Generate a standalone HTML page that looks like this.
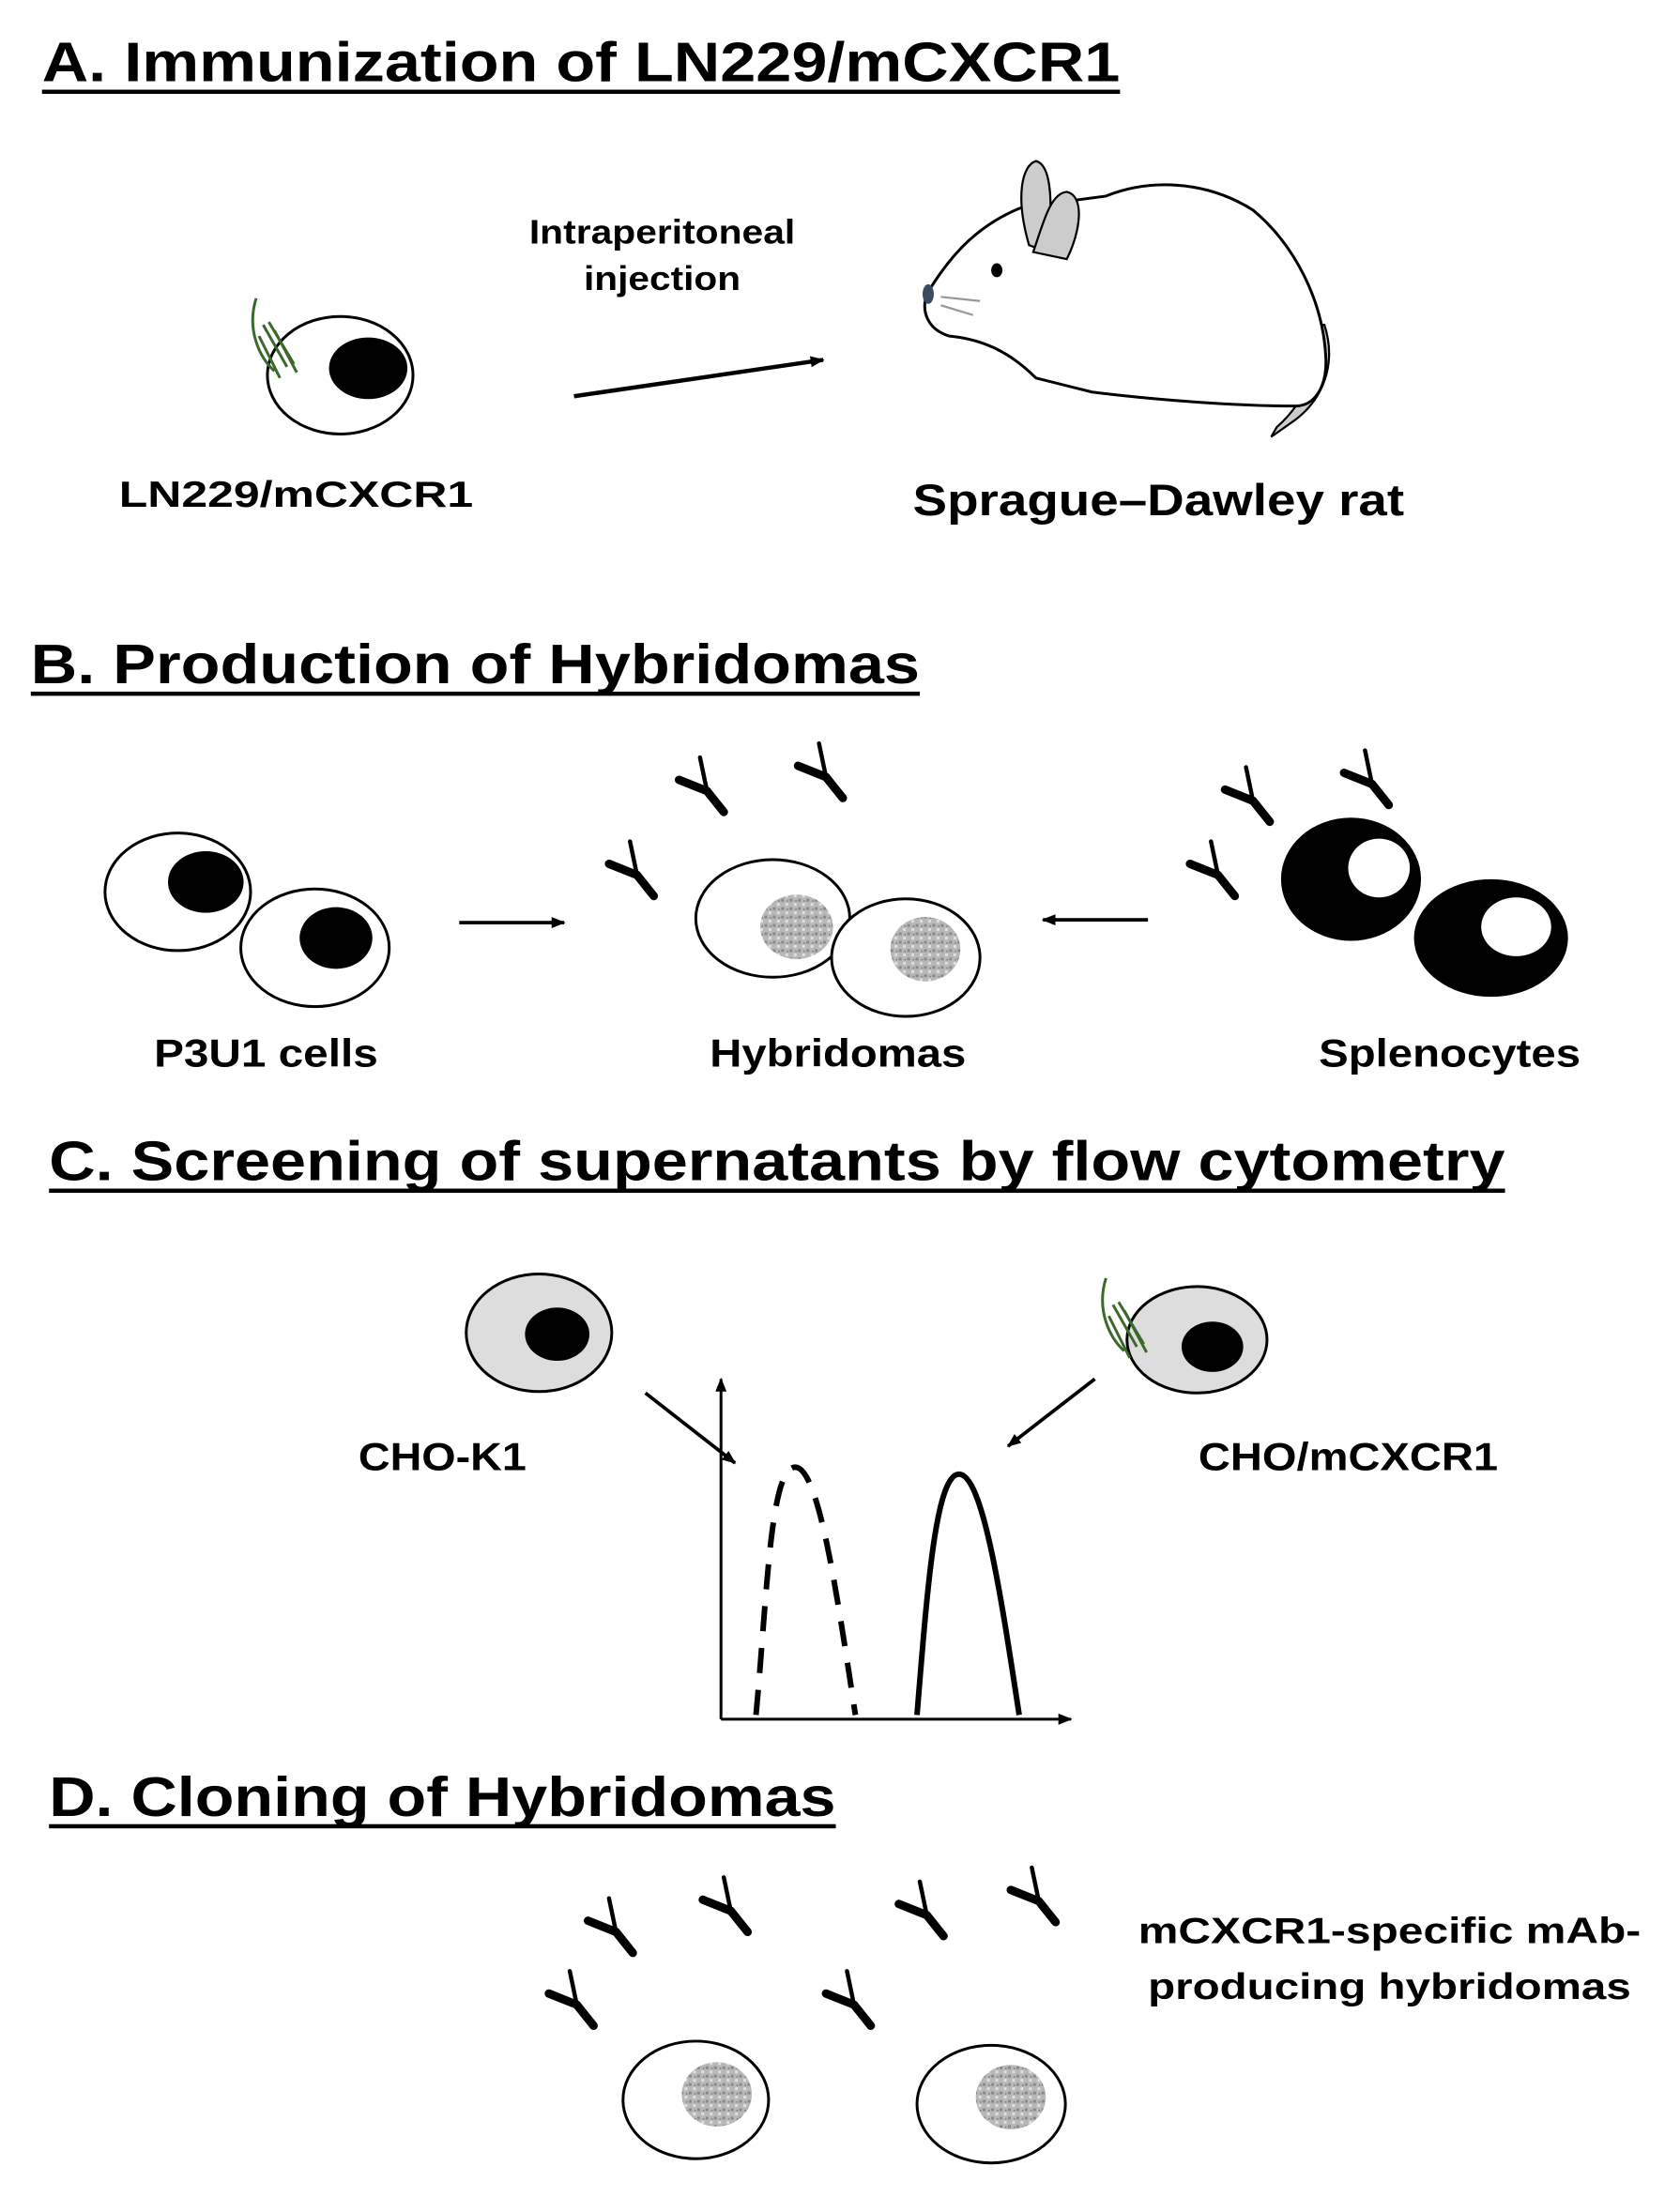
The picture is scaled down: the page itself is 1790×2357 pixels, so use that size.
<!DOCTYPE html>
<html><head><meta charset="utf-8"><style>html,body{margin:0;padding:0;background:#fff}svg{display:block}</style></head>
<body>
<svg width="1790" height="2357" viewBox="0 0 1200 1580" xmlns="http://www.w3.org/2000/svg" font-family="Liberation Sans, Arial, sans-serif" font-weight="bold">
<defs>
<marker id="ah" markerWidth="10" markerHeight="8" refX="9" refY="4" orient="auto" markerUnits="userSpaceOnUse"><path d="M0,0 L10,4 L0,8 Z" fill="#000"/></marker>
<pattern id="grain" width="6" height="6" patternUnits="userSpaceOnUse"><rect width="6" height="6" fill="#b8b8b8"/><rect x="0" y="0" width="2" height="2" fill="#888"/><rect x="3" y="3" width="2" height="2" fill="#e0e0e0"/><rect x="4" y="1" width="1" height="1" fill="#777"/></pattern>
<g id="ab"><path d="M0,0 L12,15" stroke="#000" stroke-width="6" stroke-linecap="round"/><path d="M0,0 L-20,-8" stroke="#000" stroke-width="6" stroke-linecap="round"/><path d="M0,0 L-5,-24" stroke="#000" stroke-width="3" stroke-linecap="round"/></g>
<g id="green" stroke="#3a6a2a" stroke-width="2" fill="none"><path d="M183,213 C176,235 185,255 196,265"/><path d="M188,232 L205,262"/><path d="M192,230 L210,260"/><path d="M196,236 L212,266"/><path d="M185,240 L200,270"/></g>
</defs>

<!-- A -->
<text x="30" y="58" font-size="40" textLength="770" lengthAdjust="spacingAndGlyphs">A. Immunization of LN229/mCXCR1</text>
<rect x="30" y="64" width="770" height="3" fill="#000"/>
<ellipse cx="243" cy="268" rx="52" ry="42" fill="#fff" stroke="#000" stroke-width="2"/>
<ellipse cx="263" cy="263" rx="28" ry="22" fill="#000"/>
<use href="#green"/>
<line x1="410" y1="283" x2="588" y2="257" stroke="#000" stroke-width="3" marker-end="url(#ah)"/>
<text x="378" y="174" font-size="24" textLength="190" lengthAdjust="spacingAndGlyphs">Intraperitoneal</text>
<text x="417" y="207" font-size="24" textLength="112" lengthAdjust="spacingAndGlyphs">injection</text>
<text x="85" y="362" font-size="26" textLength="253" lengthAdjust="spacingAndGlyphs">LN229/mCXCR1</text>
<!-- rat -->
<path d="M946,232 C955,260 945,285 925,300 L908,312 L912,305 C935,285 940,262 938,232 Z" fill="#ccc" stroke="#000" stroke-width="1.5"/>
<path d="M662,210 C680,180 700,160 730,148 L790,140 C820,128 860,128 895,150 C925,175 945,215 947,255 C948,275 940,290 925,290 C880,290 820,285 780,280 L740,270 C720,250 700,242 678,240 C662,235 658,222 662,210 Z" fill="#fff" stroke="#000" stroke-width="2"/>
<path d="M735,175 C725,140 730,118 740,115 C752,118 752,150 748,180 Z" fill="#ccc" stroke="#000" stroke-width="1.5"/>
<path d="M738,180 L762,185 C772,165 775,140 762,137 C750,138 745,160 738,180 Z" fill="#ccc" stroke="#000" stroke-width="1.5"/>
<ellipse cx="712" cy="193" rx="4" ry="5" fill="#000"/>
<ellipse cx="663" cy="210" rx="4" ry="7" fill="#3a4a60"/>
<path d="M672,212 L700,215 M672,218 L695,225" stroke="#999" stroke-width="1.5"/>
<text x="652" y="368" font-size="32" textLength="351" lengthAdjust="spacingAndGlyphs">Sprague–Dawley rat</text>

<!-- B -->
<text x="22" y="488" font-size="40" textLength="635" lengthAdjust="spacingAndGlyphs">B. Production of Hybridomas</text>
<rect x="22" y="494" width="635" height="3" fill="#000"/>
<ellipse cx="127" cy="637" rx="52" ry="42" fill="#fff" stroke="#000" stroke-width="2"/>
<ellipse cx="147" cy="630" rx="27" ry="22" fill="#000"/>
<ellipse cx="225" cy="677" rx="53" ry="42" fill="#fff" stroke="#000" stroke-width="2"/>
<ellipse cx="240" cy="670" rx="26" ry="22" fill="#000"/>
<line x1="328" y1="659" x2="403" y2="659" stroke="#000" stroke-width="2.5" marker-end="url(#ah)"/>
<line x1="820" y1="657" x2="745" y2="657" stroke="#000" stroke-width="2.5" marker-end="url(#ah)"/>
<ellipse cx="552" cy="656" rx="55" ry="42" fill="#fff" stroke="#000" stroke-width="2"/>
<ellipse cx="569" cy="662" rx="26" ry="23" fill="url(#grain)"/>
<ellipse cx="647" cy="684" rx="53" ry="42" fill="#fff" stroke="#000" stroke-width="2"/>
<ellipse cx="661" cy="678" rx="25" ry="23" fill="url(#grain)"/>
<ellipse cx="965" cy="628" rx="50" ry="44" fill="#000"/>
<ellipse cx="985" cy="620" rx="22" ry="21" fill="#fff"/>
<ellipse cx="1065" cy="670" rx="55" ry="42" fill="#000"/>
<ellipse cx="1083" cy="662" rx="25" ry="21" fill="#fff"/>
<use href="#ab" x="455" y="625"/>
<use href="#ab" x="505" y="565"/>
<use href="#ab" x="590" y="555"/>
<use href="#ab" x="870" y="625"/>
<use href="#ab" x="895" y="572"/>
<use href="#ab" x="980" y="560"/>
<text x="110" y="762" font-size="28" textLength="160" lengthAdjust="spacingAndGlyphs">P3U1 cells</text>
<text x="507" y="762" font-size="28" textLength="183" lengthAdjust="spacingAndGlyphs">Hybridomas</text>
<text x="942" y="762" font-size="28" textLength="187" lengthAdjust="spacingAndGlyphs">Splenocytes</text>

<!-- C -->
<text x="35" y="843" font-size="40" textLength="1040" lengthAdjust="spacingAndGlyphs">C. Screening of supernatants by flow cytometry</text>
<rect x="35" y="849" width="1040" height="3" fill="#000"/>
<ellipse cx="385" cy="952" rx="52" ry="42" fill="#ddd" stroke="#000" stroke-width="2"/>
<ellipse cx="398" cy="953" rx="23" ry="19" fill="#000"/>
<ellipse cx="855" cy="957" rx="50" ry="38" fill="#ddd" stroke="#000" stroke-width="2"/>
<ellipse cx="866" cy="962" rx="22" ry="18" fill="#000"/>
<use href="#green" transform="translate(607,700)"/>
<text x="256" y="1050" font-size="28" textLength="120" lengthAdjust="spacingAndGlyphs">CHO-K1</text>
<text x="856" y="1050" font-size="28" textLength="214" lengthAdjust="spacingAndGlyphs">CHO/mCXCR1</text>
<line x1="461" y1="995" x2="525" y2="1045" stroke="#000" stroke-width="2.5" marker-end="url(#ah)"/>
<line x1="782" y1="985" x2="720" y2="1033" stroke="#000" stroke-width="2.5" marker-end="url(#ah)"/>
<line x1="515" y1="1228" x2="515" y2="985" stroke="#000" stroke-width="2" marker-end="url(#ah)"/>
<line x1="515" y1="1228" x2="765" y2="1228" stroke="#000" stroke-width="2" marker-end="url(#ah)"/>
<path d="M540,1225 C548,1140 550,1048 568,1048 C585,1048 598,1140 611,1225" fill="none" stroke="#000" stroke-width="4" stroke-dasharray="18,12"/>
<path d="M655,1225 C662,1140 668,1053 685,1053 C702,1053 715,1140 728,1225" fill="none" stroke="#000" stroke-width="4"/>

<!-- D -->
<text x="35" y="1297" font-size="40" textLength="562" lengthAdjust="spacingAndGlyphs">D. Cloning of Hybridomas</text>
<rect x="35" y="1303" width="562" height="3" fill="#000"/>
<use href="#ab" x="440" y="1380"/>
<use href="#ab" x="522" y="1365"/>
<use href="#ab" x="412" y="1432"/>
<use href="#ab" x="662" y="1368"/>
<use href="#ab" x="742" y="1358"/>
<use href="#ab" x="610" y="1432"/>
<ellipse cx="497" cy="1500" rx="52" ry="42" fill="#fff" stroke="#000" stroke-width="2"/>
<ellipse cx="512" cy="1496" rx="25" ry="23" fill="url(#grain)"/>
<ellipse cx="708" cy="1503" rx="53" ry="42" fill="#fff" stroke="#000" stroke-width="2"/>
<ellipse cx="722" cy="1498" rx="25" ry="23" fill="url(#grain)"/>
<text x="813" y="1388" font-size="26" textLength="359" lengthAdjust="spacingAndGlyphs">mCXCR1-specific mAb-</text>
<text x="820" y="1428" font-size="26" textLength="345" lengthAdjust="spacingAndGlyphs">producing hybridomas</text>
</svg>
</body></html>
